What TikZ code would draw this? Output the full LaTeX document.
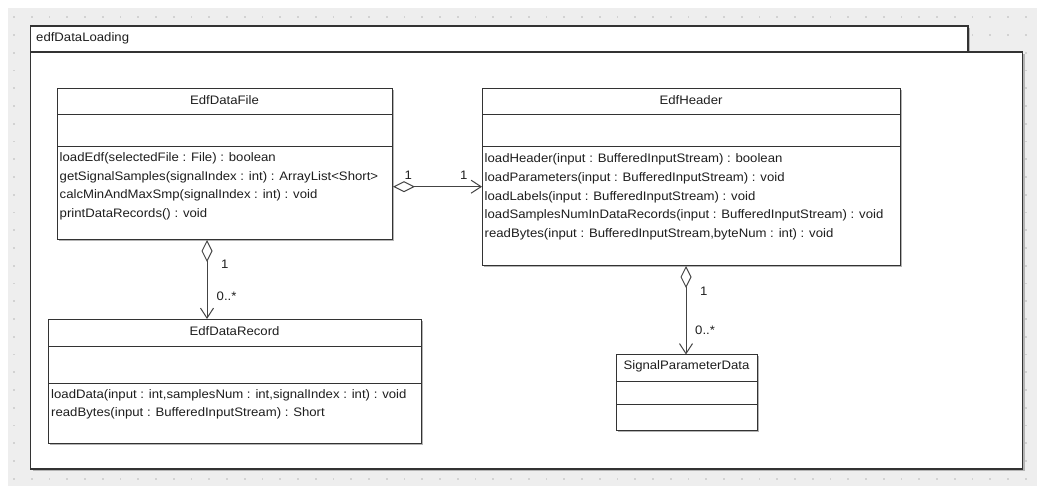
\documentclass[tikz,border=0pt]{standalone}
\usepackage{fontspec}
\setmainfont{Liberation Sans}[FakeStretch=1.07]
\usetikzlibrary{arrows.meta}
\definecolor{bggray}{HTML}{EEEEEE}
\definecolor{dotgray}{HTML}{D2D2D2}
\definecolor{linec}{HTML}{333333}
\definecolor{connc}{HTML}{444444}
\definecolor{txt}{HTML}{1E1E1E}
\definecolor{shad}{HTML}{B4B4B4}
\begin{document}
\begin{tikzpicture}[x=1pt,y=-1pt,
  classbox/.style={draw=linec, line width=1pt, fill=white, inner sep=0pt, anchor=north west},
  shadowbox/.style={fill=shad},
  divider/.style={draw=linec, line width=0.9pt},
  lbl/.style={font=\fontsize{12.3}{12.7}\selectfont, text=txt, inner sep=0pt, anchor=west},
  cname/.style={font=\fontsize{12.3}{12.7}\selectfont, text=txt, inner sep=0pt},
  mult/.style={font=\fontsize{12.3}{12.7}\selectfont, text=txt, inner sep=0pt, anchor=west},
  agg/.style={draw=connc, line width=1pt,
    {Diamond[open,length=22pt,width=11pt,line width=1pt]}-{Straight Barb[length=10pt,width=13pt,line width=1pt]}}
]
\useasboundingbox (0,0) rectangle (1037,486);
\fill[white] (0,0) rectangle (1037,486);
\fill[bggray] (8,8) rectangle (1037,486);
\foreach \i in {0,...,57}{
  \foreach \j in {0,...,26}{
    \fill[dotgray] ({14+\i*17.75-0.8},{17.3+\j*17.75-0.8}) rectangle ++(1.6,1.6);
  }
}
% package
\fill[shad] (32.5,28) rectangle (970,54);
\fill[shad] (32.5,54) rectangle (1024.5,471);
\draw[linec, line width=1.1pt, fill=white] (30.5,26) rectangle (968,52);
\draw[linec, line width=1.1pt, fill=white] (30.5,52) rectangle (1022.5,469);
\node[lbl] (pkg) at (36,38.5) {edfDataLoading};

% EdfDataFile
\fill[shadowbox] (59,90) rectangle (394,241);
\node[classbox, minimum width=335pt, minimum height=151pt] (file) at (57,88) {};
\draw[divider] (57,114) -- (392,114);
\draw[divider] (57,146) -- (392,146);
\node[cname] (fileN) at (224.5,100) {EdfDataFile};
\node[lbl] (f1) at (59.5,158.3) {loadEdf(selectedFile : File) : boolean};
\node[lbl] (f2) at (59.5,177.0) {getSignalSamples(signalIndex : int) : ArrayList<Short>};
\node[lbl] (f3) at (59.5,195.7) {calcMinAndMaxSmp(signalIndex : int) : void};
\node[lbl] (f4) at (59.5,214.4) {printDataRecords() : void};

% EdfHeader
\fill[shadowbox] (484,90) rectangle (902,267);
\node[classbox, minimum width=418pt, minimum height=177pt] (header) at (482,88) {};
\draw[divider] (482,114) -- (900,114);
\draw[divider] (482,146) -- (900,146);
\node[cname] (headerN) at (691,100) {EdfHeader};
\node[lbl] (h1) at (484.5,159.3) {loadHeader(input : BufferedInputStream) : boolean};
\node[lbl] (h2) at (484.5,178.1) {loadParameters(input : BufferedInputStream) : void};
\node[lbl] (h3) at (484.5,196.9) {loadLabels(input : BufferedInputStream) : void};
\node[lbl] (h4) at (484.5,215.7) {loadSamplesNumInDataRecords(input : BufferedInputStream) : void};
\node[lbl] (h5) at (484.5,234.5) {readBytes(input : BufferedInputStream,byteNum : int) : void};

% EdfDataRecord
\fill[shadowbox] (50,321) rectangle (423,445);
\node[classbox, minimum width=373pt, minimum height=124pt] (record) at (48,319) {};
\draw[divider] (48,346.7) -- (421,346.7);
\draw[divider] (48,383.3) -- (421,383.3);
\node[cname] (recordN) at (234.5,331.5) {EdfDataRecord};
\node[lbl] (r1) at (51,395) {loadData(input : int,samplesNum : int,signalIndex : int) : void};
\node[lbl] (r2) at (51,413.5) {readBytes(input : BufferedInputStream) : Short};

% SignalParameterData
\fill[shadowbox] (618,356.5) rectangle (759,432.5);
\node[classbox, minimum width=141pt, minimum height=76pt] (spd) at (616,354.5) {};
\draw[divider] (616,381) -- (757,381);
\draw[divider] (616,404.3) -- (757,404.3);
\node[cname] (spdN) at (686.5,366.5) {SignalParameterData};

% connectors
\draw[agg] (file.east |- 0,186.7) -- (header.west |- 0,186.7);
\node[mult] (m1) at (404.5,175) {1};
\node[mult] (m2) at (460,175) {1};

\draw[agg] (file.south -| 207,0) -- (record.north -| 207,0);
\node[mult] (m3) at (221,264) {1};
\node[mult] (m4) at (216.5,296) {0..*};

\draw[agg] (header.south -| 686,0) -- (spd.north -| 686,0);
\node[mult] (m5) at (700,291) {1};
\node[mult] (m6) at (695,330) {0..*};
\end{tikzpicture}
\end{document}
